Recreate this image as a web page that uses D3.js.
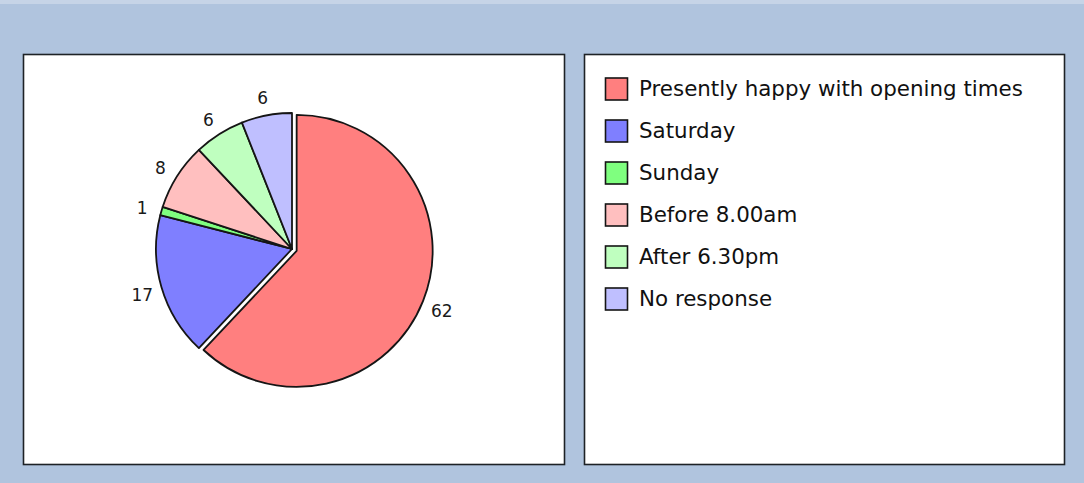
<!DOCTYPE html>
<html>
<head>
<meta charset="utf-8">
<script src="https://d3js.org/d3.v7.min.js"></script>
<style>
  body { margin: 0; background: #b0c4de; }
  svg { display: block; }
</style>
</head>
<body>
<div id="chart-area"></div>
<script>
// data
var categories = ["Presently happy with opening times", "Saturday", "Sunday", "Before 8.00am", "After 6.30pm", "No response"];
var values = [62, 17, 1, 8, 6, 6];
var colors = ["#ff7f7f", "#7f7fff", "#7fff7f", "#ffbfbf", "#bfffbf", "#bfbfff"];
var exploded = [true, false, false, false, false, false];

var data = categories.map((c, i) => ({ name: c, value: values[i], color: colors[i], out: exploded[i] }));

var svg = d3.select("#chart-area").append("svg")
    .attr("width", 1084)
    .attr("height", 483);

// background
svg.append("rect").attr("width", 1084).attr("height", 483).attr("fill", "#b0c4de");
svg.append("rect").attr("width", 1084).attr("height", 4).attr("fill", "#c6d4e7");

// panels
svg.append("rect")
    .attr("x", 23.5).attr("y", 54.5)
    .attr("width", 541).attr("height", 410)
    .attr("fill", "#fff").attr("stroke", "#1e2226").attr("stroke-width", 1.6);

svg.append("rect")
    .attr("x", 584.5).attr("y", 54.5)
    .attr("width", 480).attr("height", 410)
    .attr("fill", "#fff").attr("stroke", "#1e2226").attr("stroke-width", 1.6);

// Pie
var cx = 292, cy = 249, r = 136, explode = 5;

var pie = d3.pie()
    .sort(null)
    .value(d => d.value);

var arc = d3.arc()
    .innerRadius(0)
    .outerRadius(r);

var labelArc = d3.arc()
    .innerRadius(r + 20)
    .outerRadius(r + 20);

var arcs = pie(data);

function offset(d) {
    if (!d.data.out) return [0, 0];
    var a = (d.startAngle + d.endAngle) / 2;
    return [Math.sin(a) * explode, -Math.cos(a) * explode];
}

var g = svg.append("g")
    .attr("transform", "translate(" + cx + "," + cy + ")");

g.selectAll("path")
    .data(arcs)
    .enter()
    .append("path")
    .attr("transform", d => "translate(" + offset(d) + ")")
    .attr("d", arc)
    .attr("fill", d => d.data.color)
    .attr("stroke", "#151515")
    .attr("stroke-width", 1.8)
    .attr("stroke-linejoin", "round");

g.selectAll("text")
    .data(arcs)
    .enter()
    .append("text")
    .attr("transform", d => {
        var c = labelArc.centroid(d), o = offset(d);
        return "translate(" + (c[0] + o[0]) + "," + (c[1] + o[1]) + ")";
    })
    .attr("text-anchor", "middle")
    .attr("dy", "0.5em")
    .attr("font-family", "DejaVu Sans, sans-serif")
    .attr("font-size", 17)
    .attr("fill", "#1a1a1a")
    .text(d => d.data.value);

// Legend
var legendY = d3.scaleBand()
    .domain(categories)
    .range([68, 320])
    .paddingInner(0);

var legend = svg.selectAll(".legend")
    .data(data)
    .enter()
    .append("g")
    .attr("class", "legend")
    .attr("transform", d => "translate(605," + (legendY(d.name) + legendY.bandwidth() / 2) + ")");

legend.append("rect")
    .attr("x", 0.5).attr("y", -11)
    .attr("width", 22).attr("height", 22)
    .attr("fill", d => d.color)
    .attr("stroke", "#151515")
    .attr("stroke-width", 1.6);

legend.append("text")
    .attr("x", 34)
    .attr("y", 7)
    .attr("font-family", "DejaVu Sans, sans-serif")
    .attr("font-size", 21.4)
    .attr("fill", "#111")
    .text(d => d.name);
</script>
</body>
</html>
